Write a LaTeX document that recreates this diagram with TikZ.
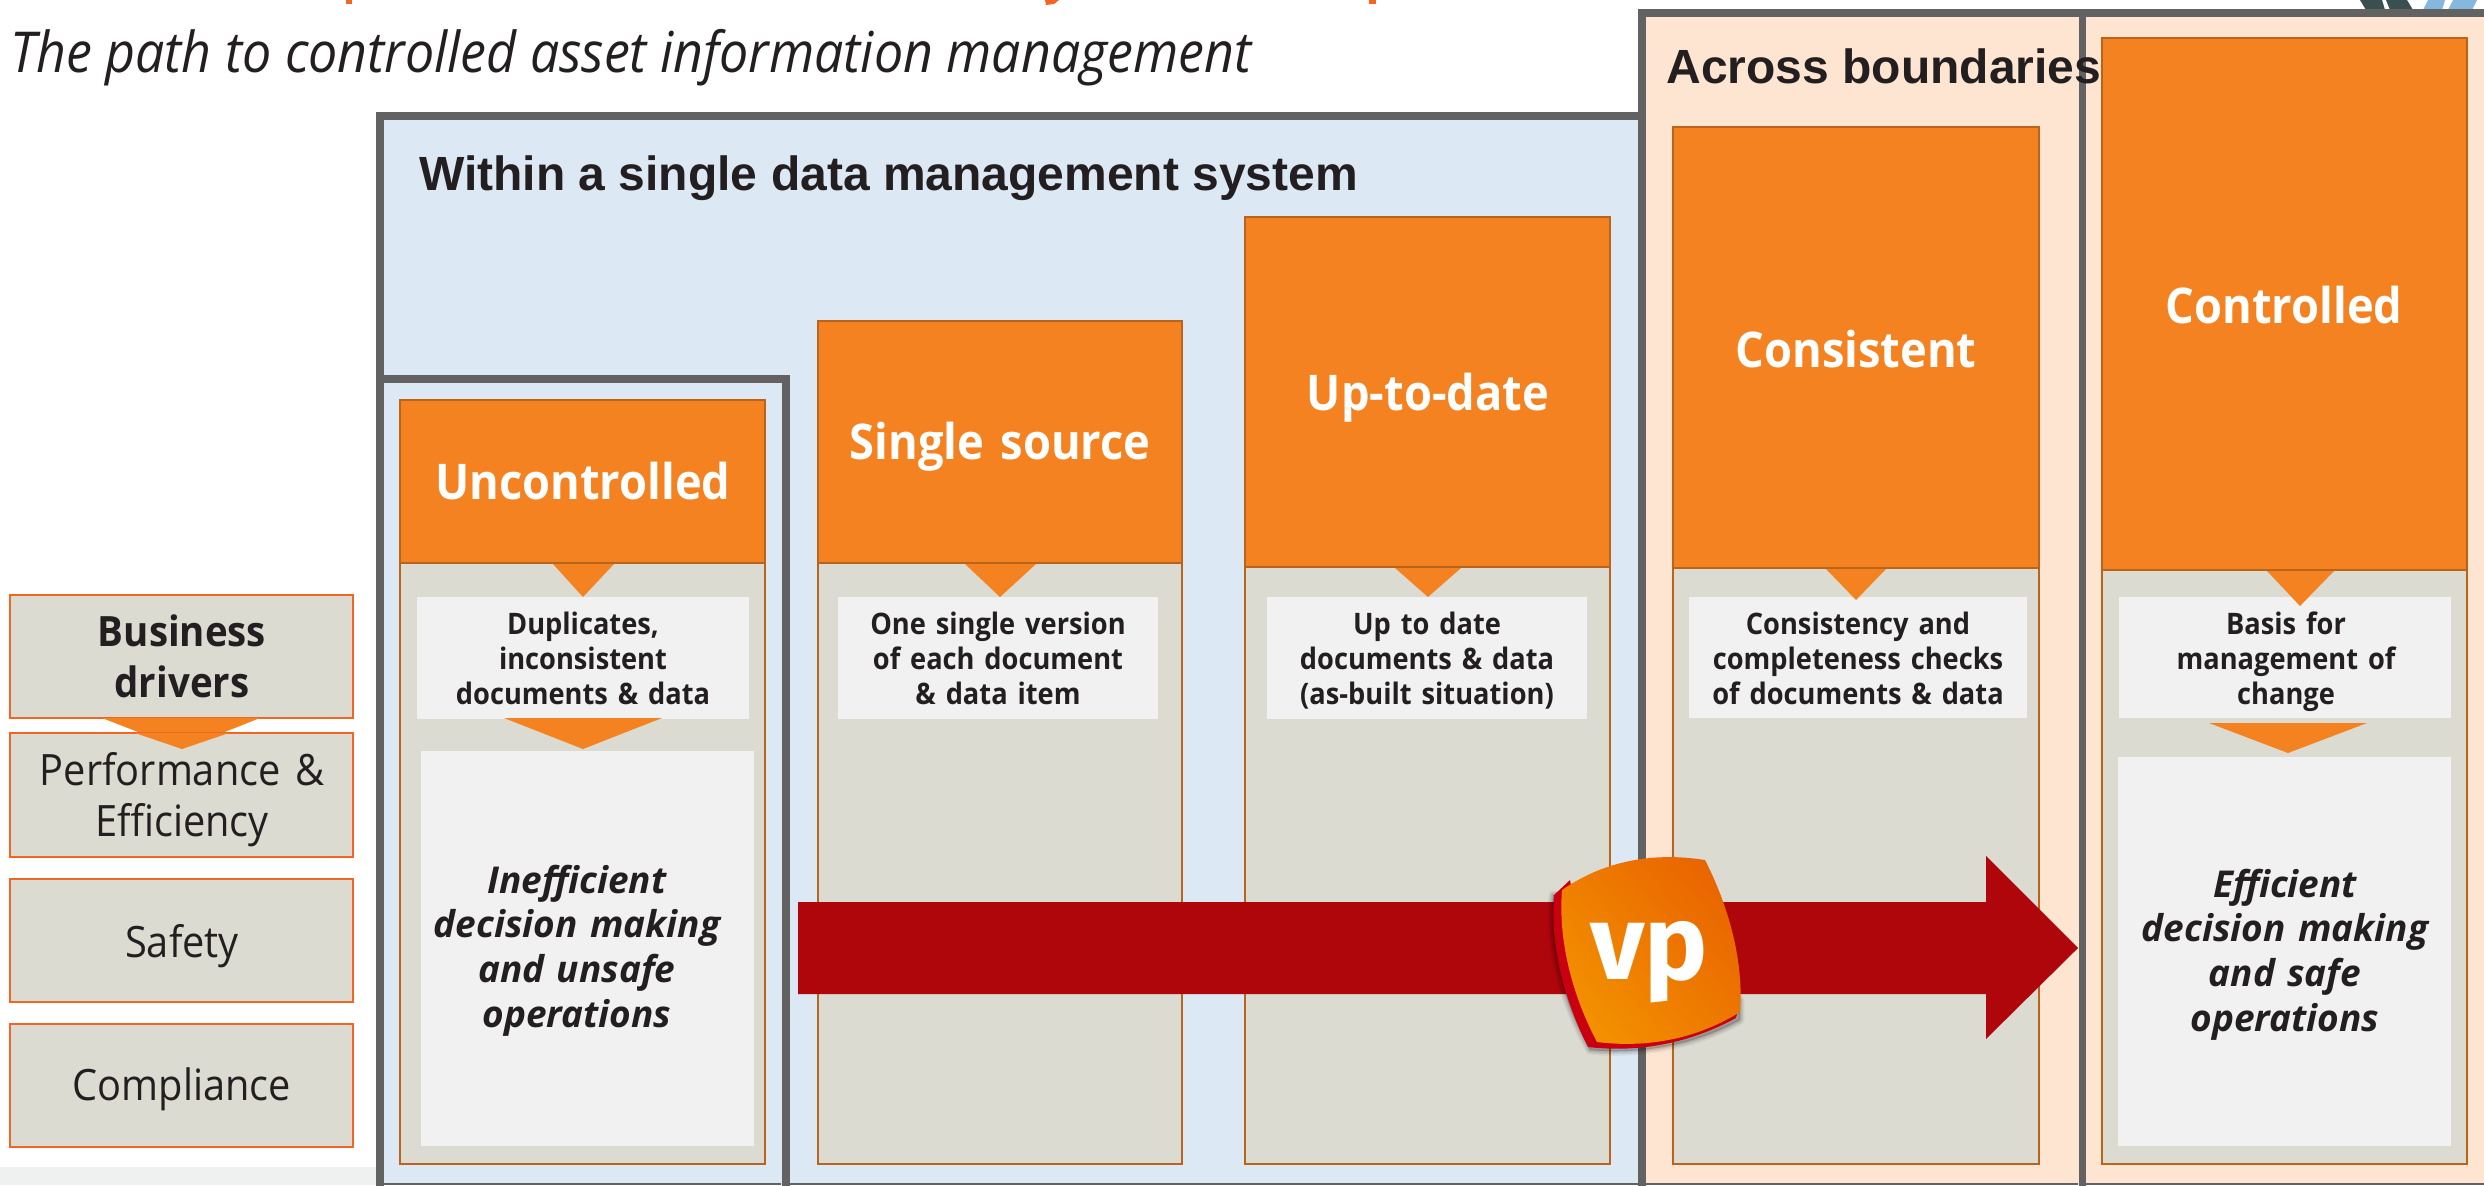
\documentclass[tikz,border=0pt]{standalone}
\usepackage{fontspec}
\setmainfont{Open Sans}
\newfontfamily\seg[FakeStretch=0.92]{Open Sans}
\newfontfamily\segw{Open Sans}
\newfontfamily\ari{Liberation Sans}
\newfontfamily\vpf{Fira Sans}
\definecolor{frameC}{HTML}{636263}
\definecolor{blueC}{HTML}{DCE9F5}
\definecolor{peachC}{HTML}{FDE5D2}
\definecolor{colC}{HTML}{DBDBD2}
\definecolor{orgC}{HTML}{F58220}
\definecolor{edgeC}{HTML}{B8651B}
\definecolor{noteC}{HTML}{F1F1F1}
\definecolor{drvC}{HTML}{F26522}
\definecolor{arrC}{HTML}{AF060C}
\definecolor{txtC}{HTML}{231F20}
\definecolor{bandC}{HTML}{EFF1F0}
\definecolor{logoA}{HTML}{3A4F50}
\definecolor{logoB}{HTML}{85B8DC}
\definecolor{vpHi}{HTML}{F39000}
\definecolor{vpLo}{HTML}{E96500}
\definecolor{vpBack}{HTML}{C8000F}
\tikzset{
  x=0.5pt,y=-0.5pt,
  colbox/.style={draw=edgeC,fill=colC,line width=1pt},
  headbox/.style={draw=edgeC,fill=orgC,line width=1.3pt},
  notebox/.style={fill=noteC},
  drvbox/.style={draw=drvC,fill=colC,line width=1.4pt},
  framebox/.style={draw=frameC,line width=4pt},
  tri/.style={fill=orgC},
  lbl/.style={inner sep=0pt,anchor=base,text width=300pt,align=center,text=txtC},
  headlbl/.style={lbl,text=white,font=\seg\bfseries\fontsize{24.6}{28}\selectfont},
  notelbl/.style={lbl,font=\seg\bfseries\fontsize{14.8}{17.5}\selectfont},
  biglbl/.style={lbl,font=\segw\bfseries\itshape\fontsize{18.5}{22.4}\selectfont},
  drvlbl/.style={lbl,font=\seg\fontsize{21.6}{25.6}\selectfont},
  drvhead/.style={lbl,font=\seg\bfseries\fontsize{20.9}{25.6}\selectfont},
  grouplbl/.style={inner sep=0pt,anchor=base west,text=txtC,font=\ari\bfseries\fontsize{24}{28}\selectfont},
}
% \bx[style]{name}{x1}{y1}{x2}{y2}
\newcommand{\bx}[6][]{%
  \pgfmathsetmacro{\bxw}{(#5-#3)*0.5}\pgfmathsetmacro{\bxh}{(#6-#4)*0.5}%
  \node[#1,anchor=north west,inner sep=0pt,outer sep=0pt,minimum width=\bxw pt,minimum height=\bxh pt] (#2) at (#3,#4) {};}
\begin{document}
\begin{tikzpicture}
\useasboundingbox (0,0) rectangle (2484,1185);
\fill[white] (0,0) rectangle (2484,1185);
\fill[bandC] (0,1167) rectangle (376,1185);
% logo fragment and clipped title
\fill[logoA] (2360,0) -- (2366,10) -- (2385,10) -- (2382,0) -- cycle;
\fill[logoA] (2386,0) -- (2390,10) -- (2413,10) -- (2407,0) -- cycle;
\fill[logoB] (2428,0) -- (2423,10) -- (2442,10) -- (2445,0) -- cycle;
\fill[logoB] (2453,0) -- (2448,10) -- (2472,10) -- (2477,0) -- cycle;
\fill[drvC] (346,0) rectangle (352,4);
\fill[drvC] (1045,0) -- (1059,0) -- (1054,4) -- (1046,5) -- cycle;
\fill[drvC] (1369,0) rectangle (1376,4);
% group frames
\fill[blueC] (380,116) rectangle (1642,1185);
\fill[peachC] (1642,13) rectangle (2484,1185);
\draw[framebox] (380,1187) -- (380,115.5) -- (1642,115.5);
\draw[framebox] (1642,1187) -- (1642,13) -- (2484,13);
\draw[frameC,line width=3.5pt] (2082,13) -- (2082,1187);
\fill[blueC] (380,379) rectangle (785,1185);
\draw[framebox] (380,1187) -- (380,379) -- (785.5,379) -- (785.5,1187);
\draw[frameC,line width=1pt] (384,1184) -- (781,1184) (789,1184) -- (1638,1184) (1646,1184) -- (2078,1184) (2086,1184) -- (2484,1184);
% business drivers
\bx[drvbox]{d1}{10}{595}{353}{718}
\fill[tri] (102,718) -- (260,718) -- (182,749) -- cycle;
\bx[drvbox]{d2}{10}{733}{353}{857}
\fill[tri] (135,733) -- (229,733) -- (182,749) -- cycle;
\bx[drvbox]{d3}{10}{879}{353}{1002}
\bx[drvbox]{d4}{10}{1024}{353}{1147}
% columns
\bx[colbox]{c1}{400}{563}{765}{1164}
\bx[headbox]{h1}{400}{400}{765}{563}
\bx[notebox]{n1}{417}{597}{749}{719}
\bx[notebox]{m1}{421}{751}{754}{1146}
\fill[tri] (553,564) -- (614,564) -- (583,597) -- cycle;
\fill[tri] (504,718) -- (662,718) -- (583,749) -- cycle;
\bx[colbox]{c2}{818}{563}{1182}{1164}
\bx[headbox]{h2}{818}{321}{1182}{563}
\bx[notebox]{n2}{838}{597}{1158}{719}
\fill[tri] (965,564) -- (1036,564) -- (1000,597) -- cycle;
\bx[colbox]{c3}{1245}{567}{1610}{1164}
\bx[headbox]{h3}{1245}{217}{1610}{567}
\bx[notebox]{n3}{1267}{597}{1587}{719}
\fill[tri] (1395,568) -- (1461,568) -- (1428,597) -- cycle;
\bx[colbox]{c4}{1673}{568}{2039}{1164}
\bx[headbox]{h4}{1673}{127}{2039}{568}
\bx[notebox]{n4}{1689}{597}{2027}{718}
\fill[tri] (1826,569) -- (1886,569) -- (1856,600) -- cycle;
\bx[colbox]{c5}{2102}{570}{2467}{1164}
\bx[headbox]{h5}{2102}{38}{2467}{570}
\bx[notebox]{n5}{2119}{597}{2451}{718}
\bx[notebox]{m5}{2118}{757}{2451}{1146}
\fill[tri] (2267,571) -- (2334,571) -- (2300,606) -- cycle;
\fill[tri] (2209,723) -- (2367,723) -- (2288,753) -- cycle;
% arrow
\fill[arrC] (798,902) -- (1986,902) -- (1986,856) -- (2078,948) -- (1986,1039) -- (1986,994) -- (798,994) -- cycle;
% vp logo
\foreach \s/\o in {9/0.05,6/0.07,3/0.09}{
  \fill[black,opacity=\o,draw=black,line width=\s pt*0.5,line join=round]
    (1553,895) .. controls (1548,945) and (1562,1000) .. (1590,1050)
    .. controls (1640,1055) and (1695,1045) .. (1740,1020) -- (1740,1000) -- (1600,900) -- cycle;
}
\fill[vpBack] (1554,895) -- (1570,880) -- (1600,1040) -- (1738,1010) -- (1736,1018)
  .. controls (1690,1043) and (1640,1053) .. (1588,1047)
  .. controls (1564,1000) and (1550,945) .. (1554,895) -- cycle;
\shade[left color=vpLo,right color=vpHi,shading angle=-50]
  (1562,890) .. controls (1605,860) and (1655,852) .. (1705,860)
  .. controls (1728,905) and (1744,960) .. (1740,1012)
  .. controls (1695,1040) and (1645,1048) .. (1597,1042)
  .. controls (1572,995) and (1558,940) .. (1562,890) -- cycle;
\node[inner sep=0pt,anchor=base,text=white,font=\vpf\bfseries\fontsize{53}{60}\selectfont] (vp) at (1649,979) {vp};
% group labels
\node[grouplbl] (gw) at (419,190) {Within a single data management system};
\node[grouplbl] (ga) at (1666,83) {Across boundaries};
% title
\node[inner sep=0pt,anchor=base west,text=txtC,font=\seg\itshape\fontsize{28.2}{32}\selectfont] (title) at (10,72) {The path to controlled asset information management};
% driver labels
\node[drvhead] (t1) at (182,646) {Business\\drivers};
\node[drvlbl] (t2) at (182,785) {Performance \&\\Efficiency};
\node[drvlbl] (t3) at (182,957) {Safety};
\node[drvlbl] (t4) at (182,1100) {Compliance};
% head labels
\node[headlbl] (l1) at (583,499) {Uncontrolled};
\node[headlbl] (l2) at (1000,459) {Single source};
\node[headlbl] (l3) at (1428,410) {Up-to-date};
\node[headlbl] (l4) at (1856,367) {Consistent};
\node[headlbl] (l5) at (2284,323) {Controlled};
% note labels
\node[notelbl] (a1) at (583,634) {Duplicates,\\inconsistent\\documents \& data};
\node[notelbl] (a2) at (998,634) {One single version\\of each document\\\& data item};
\node[notelbl] (a3) at (1427,634) {Up to date\\documents \& data\\(as-built situation)};
\node[notelbl] (a4) at (1858,634) {Consistency and\\completeness checks\\of documents \& data};
\node[notelbl] (a5) at (2286,634) {Basis for\\management of\\change};
% conclusions
\node[biglbl] (b1) at (577,893) {Inefficient\\decision making\\and unsafe\\operations};
\node[biglbl] (b5) at (2285,897) {Efficient\\decision making\\and safe\\operations};
\end{tikzpicture}
\end{document}
